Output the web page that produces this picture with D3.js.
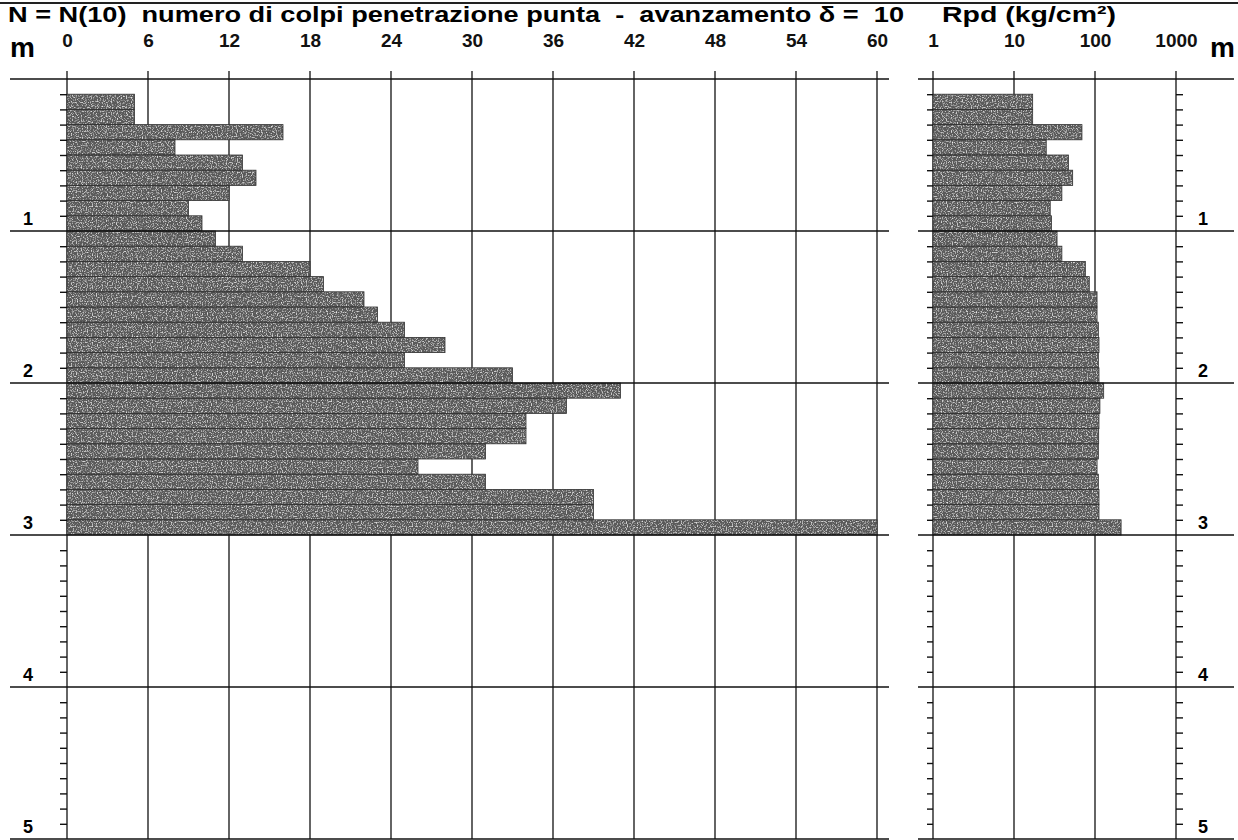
<!DOCTYPE html>
<html>
<head>
<meta charset="utf-8">
<script src="https://cdn.jsdelivr.net/npm/d3@7"></script>
<style>
  body { margin: 0; background: #fff; }
  svg { font-family: "Liberation Sans", Arial, sans-serif; }
  .tick text { fill: #111; }
  .domain { display: none; }
</style>
</head>
<body>
<div id="chart"></div>
<script>
// depth of the top of each 10 cm step (m)
var depthTop = [0.1, 0.2, 0.3, 0.4, 0.5, 0.6, 0.7, 0.8, 0.9, 1.0,
  1.1, 1.2, 1.3, 1.4, 1.5, 1.6, 1.7, 1.8, 1.9, 2.0,
  2.1, 2.2, 2.3, 2.4, 2.5, 2.6, 2.7, 2.8, 2.9];

// N(10) blows per step
var nBlows = [5, 5, 16, 8, 13, 14, 12, 9, 10, 11,
  13, 18, 19, 22, 23, 25, 28, 25, 33, 41,
  37, 34, 34, 31, 26, 31, 39, 39, 60];

// Rpd (kg/cm2)
var rpd = [17, 17, 69, 25, 47, 53, 39, 28, 29, 34,
  39, 76, 85, 106, 106, 110, 112, 110, 112, 128,
  115, 112, 111, 110, 106, 110, 112, 112, 210];

var nTicks = [0, 6, 12, 18, 24, 30, 36, 42, 48, 54, 60];
var rpdTicks = [1, 10, 100, 1000];
var meterTicks = [1, 2, 3, 4, 5];

var svgWidth = 1238;
var svgHeight = 840;

var svg = d3.select("#chart")
  .append("svg")
  .attr("width", svgWidth)
  .attr("height", svgHeight);

// speckled grey like the scanned fill
var defs = svg.append("defs");
var f = defs.append("filter").attr("id", "speckle")
  .attr("x", 0).attr("y", 0).attr("width", 1).attr("height", 1);
f.append("feTurbulence").attr("type", "fractalNoise")
  .attr("baseFrequency", 0.8).attr("numOctaves", 1).attr("seed", 4).attr("result", "noise");
f.append("feColorMatrix").attr("in", "noise").attr("type", "matrix")
  .attr("values", "0 0 0 0 1  0 0 0 0 1  0 0 0 0 1  2.6 0 0 0 -1.3")
  .attr("result", "dots");
f.append("feComposite").attr("in", "dots").attr("in2", "SourceGraphic")
  .attr("operator", "in").attr("result", "dotsIn");
var fm = f.append("feMerge");
fm.append("feMergeNode").attr("in", "SourceGraphic");
fm.append("feMergeNode").attr("in", "dotsIn");

// scales
var y = d3.scaleLinear().domain([0, 5]).range([79, 839]);
var xN = d3.scaleLinear().domain([0, 60]).range([67, 877]);
var xR = d3.scaleLog().domain([1, 1000]).range([933, 1176]);

var step = 0.1;
var minorTicks = d3.range(1, 50).map(i => i / 10).filter(v => Math.round(v * 10) % 10 !== 0);

// top rule
svg.append("line")
  .attr("x1", 0).attr("x2", svgWidth).attr("y1", 3).attr("y2", 3)
  .attr("stroke", "#222").attr("stroke-width", 2);

// titles
svg.append("text")
  .attr("x", 8).attr("y", 22)
  .style("white-space", "pre")
  .attr("font-size", 22).attr("font-weight", "bold")
  .attr("textLength", 896).attr("lengthAdjust", "spacingAndGlyphs")
  .text("N = N(10)  numero di colpi penetrazione punta  -  avanzamento \u03b4 =  10");

svg.append("text")
  .attr("x", 942).attr("y", 22)
  .attr("font-size", 22).attr("font-weight", "bold")
  .attr("textLength", 174).attr("lengthAdjust", "spacingAndGlyphs")
  .text("Rpd (kg/cm\u00b2)");

svg.append("text")
  .attr("x", 10).attr("y", 57)
  .attr("font-size", 28).attr("font-weight", "bold")
  .text("m");

svg.append("text")
  .attr("x", 1210).attr("y", 57)
  .attr("font-size", 28).attr("font-weight", "bold")
  .text("m");

// draws one panel: grid, bars, depth lines
function drawPanel(g, xs, ticks, values, base, x1, x2) {
  // vertical grid (under the bars)
  g.append("g")
    .selectAll("line")
    .data(ticks)
    .enter()
    .append("line")
    .attr("x1", d => xs(d)).attr("x2", d => xs(d))
    .attr("y1", 71).attr("y2", y(5))
    .attr("stroke", "#111").attr("stroke-width", 1.3);

  g.append("g")
    .attr("filter", "url(#speckle)")
    .selectAll("rect")
    .data(values)
    .enter()
    .append("rect")
    .attr("x", xs(base))
    .attr("y", (d, i) => y(depthTop[i]))
    .attr("width", d => xs(d) - xs(base))
    .attr("height", y(step) - y(0))
    .attr("fill", "#5a5a5a");

  g.append("g")
    .selectAll("rect")
    .data(values)
    .enter()
    .append("rect")
    .attr("x", xs(base))
    .attr("y", (d, i) => y(depthTop[i]))
    .attr("width", d => xs(d) - xs(base))
    .attr("height", y(step) - y(0))
    .attr("fill", "none")
    .attr("stroke", "#333")
    .attr("stroke-width", 0.8);

  // horizontal meter lines (and header line)
  g.append("g")
    .selectAll("line")
    .data([0].concat(meterTicks))
    .enter()
    .append("line")
    .attr("x1", x1).attr("x2", x2)
    .attr("y1", d => y(d)).attr("y2", d => y(d))
    .attr("stroke", "#111").attr("stroke-width", 1.3);
}

// ---- left panel: N ----
var left = svg.append("g");
drawPanel(left, xN, nTicks, nBlows, 0, 10, 889);

left.append("g")
  .attr("transform", `translate(0, ${y(0)})`)
  .call(d3.axisTop(xN).tickValues(nTicks).tickSize(0).tickPadding(32))
  .call(g => g.selectAll(".tick text")
    .attr("font-size", 19).attr("font-weight", "bold").attr("font-family", "Liberation Sans"));

left.append("g")
  .attr("transform", `translate(${xN(0)}, 0)`)
  .call(d3.axisLeft(y).tickValues(minorTicks).tickSize(7).tickFormat(""))
  .call(g => g.selectAll(".tick line").attr("stroke", "#111").attr("stroke-width", 1.4));

left.append("g")
  .selectAll("text")
  .data(meterTicks)
  .enter()
  .append("text")
  .attr("x", 28).attr("y", d => y(d) - 6)
  .attr("text-anchor", "middle")
  .attr("font-size", 18).attr("font-weight", "bold")
  .text(d => d);

// ---- right panel: Rpd ----
var right = svg.append("g");
drawPanel(right, xR, rpdTicks, rpd, 1, 918, 1234);

right.append("g")
  .attr("transform", `translate(0, ${y(0)})`)
  .call(d3.axisTop(xR).tickValues(rpdTicks).tickFormat(d3.format("d")).tickSize(0).tickPadding(32))
  .call(g => g.selectAll(".tick text")
    .attr("font-size", 19).attr("font-weight", "bold").attr("font-family", "Liberation Sans"));

right.append("g")
  .attr("transform", `translate(${xR(1)}, 0)`)
  .call(d3.axisLeft(y).tickValues(minorTicks).tickSize(6).tickFormat(""))
  .call(g => g.selectAll(".tick line").attr("stroke", "#111").attr("stroke-width", 1.4));

right.append("g")
  .attr("transform", `translate(${xR(1000)}, 0)`)
  .call(d3.axisRight(y).tickValues(minorTicks).tickSize(7).tickFormat(""))
  .call(g => g.selectAll(".tick line").attr("stroke", "#111").attr("stroke-width", 1.4));

right.append("g")
  .selectAll("text")
  .data(meterTicks)
  .enter()
  .append("text")
  .attr("x", 1203).attr("y", d => y(d) - 6)
  .attr("text-anchor", "middle")
  .attr("font-size", 18).attr("font-weight", "bold")
  .text(d => d);
</script>
</body>
</html>
